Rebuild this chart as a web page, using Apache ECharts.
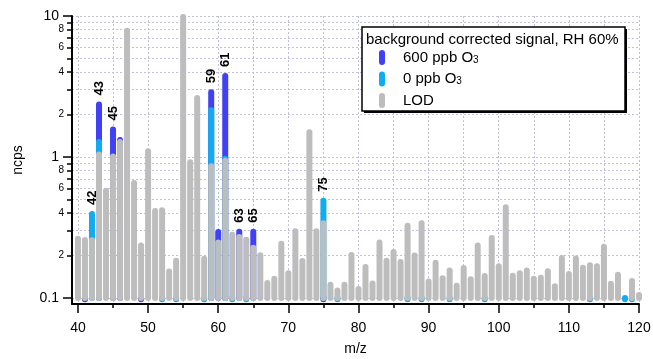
<!DOCTYPE html>
<html><head><meta charset="utf-8">
<script src="https://cdn.jsdelivr.net/npm/echarts@6/dist/echarts.min.js"></script>
<style>html,body{margin:0;padding:0;background:#fff}#c{width:653px;height:359px}</style>
</head><body><div id="c"></div>
<script>
// m/z values
const masses = [40,41,42,43,44,45,46,47,48,49,50,51,52,53,54,55,56,57,58,59,60,61,62,63,64,65,66,67,68,69,70,71,72,73,74,75,76,77,78,79,80,81,82,83,84,85,86,87,88,89,90,91,92,93,94,95,96,97,98,99,100,101,102,103,104,105,106,107,108,109,110,111,112,113,114,115,116,117,118,119,120];
// LOD (grey)
const lodValues = [0.263,0.258,0.257,1.04,0.577,1.01,1.28,7.87,0.654,0.236,1.10,0.414,0.42,0.154,0.184,9.84,0.917,2.62,0.19,0.859,0.248,0.94,0.281,0.271,0.259,0.227,0.201,0.128,0.137,0.243,0.150,0.297,0.183,1.50,0.297,0.339,0.124,0.113,0.124,0.202,0.116,0.166,0.127,0.248,0.184,0.212,0.18,0.326,0.20,0.339,0.131,0.178,0.138,0.157,0.122,0.163,0.136,0.236,0.143,0.267,0.168,0.44,0.144,0.15,0.157,0.137,0.139,0.155,0.121,0.192,0.148,0.191,0.164,0.171,0.168,0.231,0.126,0.146,null,0.132,0.105];
// 600 ppb O3 (blue)
const o3High_mz  = [41,43,45,46,49,59,60,61,63,65,75];
const o3High_val = [0.098,2.36,1.57,1.32,0.098,2.88,0.294,3.75,0.295,0.295,0.098];
// 0 ppb O3 (cyan)
const o3Zero_mz  = [42,43,52,54,58,59,61,62,64,75,77,87,89,93,98,113,118,119];
const o3Zero_val = [0.394,1.28,0.098,0.098,0.098,2.15,0.973,0.098,0.098,0.49,0.098,0.098,0.098,0.098,0.098,0.098,0.098,0.098];
// labelled peaks
const peakLabels = [42,43,45,59,61,63,65,75];
// axis ticks
const yMajorTicks = [0.1,1,10];
const yMinorTicks = [0.2,0.3,0.4,0.5,0.6,0.7,0.8,0.9,2,3,4,5,6,7,8,9];
const yMinorLabels = [0.2,0.4,0.6,0.8,2,4,6,8];
const xMajorTicks = [40,50,60,70,80,90,100,110,120];
const xMinorTicks = [45,55,65,75,85,95,105,115];
const legendTitle = 'background corrected signal, RH 60%';
const seriesNames = ['600 ppb O3','0 ppb O3','LOD'];

const BASE = 0.1;
const COLORS = {high:'#4040f4', zero:'#12aaf0', lod:'#bdbdbd'};
const FONT = 'Arial, "Liberation Sans", sans-serif';
const GRIDLINE = {show:true, lineStyle:{color:'#c0c0d8', width:1, type:[2,2]}};

function stick(name, color, mz, vals) {
  return {
    type:'custom', name, coordinateSystem:'cartesian2d', xAxisIndex:0, yAxisIndex:0,
    itemStyle:{color}, clip:false, silent:true,
    data: mz.map((m,i)=>[m, vals[i]]).filter(d=>d[1]!=null),
    encode:{x:0, y:1},
    renderItem:(params, api)=>{
      const x = api.value(0), v = api.value(1);
      const p0 = api.coord([x, BASE]), p1 = api.coord([x, v]);
      return {type:'line', shape:{x1:p0[0], y1:p0[1], x2:p1[0], y2:p1[1]},
        style:{stroke:color, lineWidth:6, lineCap:'round'}};
    }
  };
}
function topOf(m){
  let t = 0;
  const a = o3High_mz.indexOf(m); if (a>=0) t = Math.max(t, o3High_val[a]);
  const b = o3Zero_mz.indexOf(m); if (b>=0) t = Math.max(t, o3Zero_val[b]);
  const c = masses.indexOf(m); if (c>=0 && lodValues[c]!=null) t = Math.max(t, lodValues[c]);
  return t;
}
const fmt = v => String(Number(v.toPrecision(3)));
const common = {min:0.0907, max:10};
const xr = {min:39.15, max:120};

const chart = echarts.init(document.getElementById('c'), null, {renderer:'canvas'});
chart.setOption({
  animation:false,
  backgroundColor:'#fff',
  grid:{left:72, right:14, top:16, bottom:55, outerBoundsMode:'none', containLabel:false},
  xAxis:[
    {type:'value', position:'bottom', ...xr, name:'m/z', nameLocation:'middle', nameGap:38,
     nameTextStyle:{fontSize:14, color:'#000', fontFamily:FONT},
     axisLine:{show:true, lineStyle:{color:'#000', width:2}},
     axisTick:{show:true, length:9, customValues:xMajorTicks, lineStyle:{color:'#000', width:1.5}},
     axisLabel:{show:true, customValues:xMajorTicks, margin:17, fontSize:14, color:'#000', fontFamily:FONT},
     splitLine:GRIDLINE},
    {type:'value', position:'bottom', ...xr,
     axisLine:{show:false},
     axisTick:{show:true, length:4, customValues:xMinorTicks, lineStyle:{color:'#000', width:1.5}},
     axisLabel:{show:false},
     splitLine:GRIDLINE}
  ],
  yAxis:[
    {type:'log', logBase:10, position:'left', ...common, name:'ncps', nameLocation:'middle', nameGap:47,
     nameTextStyle:{fontSize:14, color:'#000', fontFamily:FONT},
     axisLine:{show:true, lineStyle:{color:'#000', width:2}},
     axisTick:{show:true, length:9, customValues:yMajorTicks, lineStyle:{color:'#000', width:1.5}},
     axisLabel:{show:true, customValues:yMajorTicks, margin:13, fontSize:14, color:'#000', fontFamily:FONT, formatter:fmt},
     splitLine:GRIDLINE},
    {type:'log', logBase:10, position:'left', ...common,
     axisLine:{show:false},
     axisTick:{show:true, length:5, customValues:yMinorTicks, lineStyle:{color:'#000', width:1.5}},
     axisLabel:{show:true, customValues:yMinorLabels, margin:8, fontSize:10, color:'#000', fontFamily:FONT,
       formatter:v=> v<1 ? String(Math.round(v*10)) : fmt(v)},
     splitLine:GRIDLINE}
  ],
  legend:{
    data:seriesNames, orient:'vertical', left:379, top:50, padding:0,
    itemWidth:6, itemHeight:15, itemGap:6.5, selectedMode:false, z:60, zlevel:0,
    icon:'path://M3,0 A3,3 0 0 1 6,3 L6,12 A3,3 0 0 1 0,12 L0,3 A3,3 0 0 1 3,0 Z',
    formatter:n=>n.replace('O3','O{sub|3}'),
    textStyle:{fontSize:15, color:'#000', fontFamily:FONT, lineHeight:15, padding:[0,0,0,13],
      rich:{sub:{fontSize:10, lineHeight:15, verticalAlign:'bottom', color:'#000', fontFamily:FONT}}}
  },
  graphic:[
    {type:'rect', x:364, y:29, shape:{width:263, height:84}, style:{fill:'#000'}, z:50, zlevel:0},
    {type:'rect', x:362, y:27, shape:{width:263, height:84}, style:{fill:'#fff', stroke:'#000', lineWidth:1.5}, z:51, zlevel:0},
    {type:'text', x:366, y:40, style:{text:legendTitle, font:'15px '+FONT, fill:'#000', verticalAlign:'middle'}, z:52, zlevel:0}
  ],
  series:[
    stick(seriesNames[0], COLORS.high, o3High_mz, o3High_val),
    stick(seriesNames[1], COLORS.zero, o3Zero_mz, o3Zero_val),
    stick(seriesNames[2], COLORS.lod, masses, lodValues),
    {type:'custom', name:'labels', coordinateSystem:'cartesian2d', silent:true, clip:false,
     data: peakLabels.map(m=>[m, topOf(m)]), encode:{x:0,y:1},
     renderItem:(params, api)=>{
       const p = api.coord([api.value(0), api.value(1)]);
       return {type:'text', x:p[0], y:p[1]-9, rotation:Math.PI/2,
         style:{text:String(peakLabels[params.dataIndex]), fill:'#000', font:'bold 13px '+FONT, align:'left', verticalAlign:'middle'}};
     }}
  ]
});
</script></body></html>
